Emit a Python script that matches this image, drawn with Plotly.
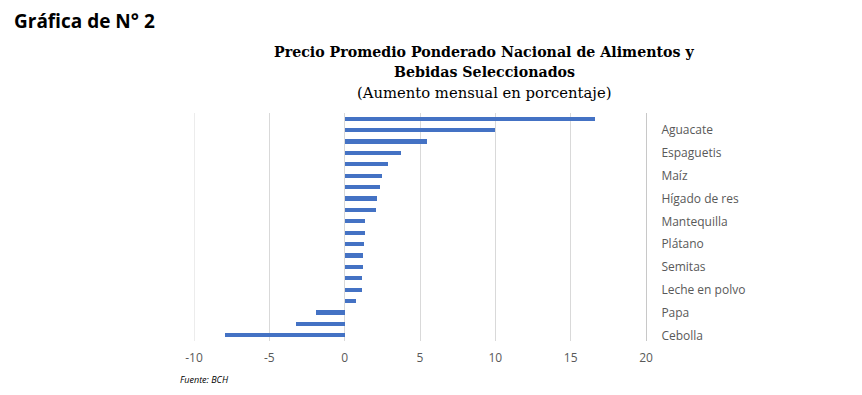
import plotly.graph_objects as go

# Values top-to-bottom (percent monthly increase)
values = [16.6, 10.0, 5.47, 3.71, 2.89, 2.47, 2.32, 2.12, 2.05, 1.37,
          1.32, 1.28, 1.24, 1.19, 1.13, 1.13, 0.75, -1.92, -3.25, -7.97]
# Visible category labels (every second bar, starting with the 2nd from top)
tick_labels = ["Aguacate", "Espaguetis", "Maíz", "Hígado de res", "Mantequilla",
               "Plátano", "Semitas", "Leche en polvo", "Papa", "Cebolla"]
x_ticks = [-10, -5, 0, 5, 10, 15, 20]

positions = list(range(len(values)))
label_positions = positions[1::2]

fig = go.Figure()
fig.add_trace(go.Bar(
    x=values, y=positions, orientation="h",
    marker=dict(color="#4472C4", line=dict(width=0)),
    width=0.36,
    showlegend=False,
))

W, H = 862, 395
L, R, T, B = 194, 646, 113, 341

# gridline at the left edge of the range
fig.add_shape(type="line", xref="x", yref="paper", x0=x_ticks[0], x1=x_ticks[0],
              y0=0, y1=1, line=dict(color="#d9d9d9", width=1), layer="below")

fig.update_layout(
    width=W, height=H,
    margin=dict(l=L, r=W - R, t=T, b=H - B, autoexpand=False),
    paper_bgcolor="white", plot_bgcolor="white",
    bargap=0,
    xaxis=dict(
        range=[-10, 20], tickvals=x_ticks, ticktext=[str(v) for v in x_ticks],
        showgrid=True, gridcolor="#d9d9d9", gridwidth=1,
        zeroline=True, zerolinecolor="#d9d9d9", zerolinewidth=1,
        showline=False, ticks="",
        tickfont=dict(family="Open Sans", size=12, color="#595959"),
        ticklabelstandoff=8,
    ),
    yaxis=dict(
        range=[len(values) - 0.5, -0.5], side="right",
        tickvals=label_positions, ticktext=tick_labels,
        showgrid=False, zeroline=False,
        showline=True, linecolor="#c8c8c8", linewidth=1,
        ticks="", ticklabelstandoff=12,
        tickfont=dict(family="Open Sans", size=12, color="#595959"),
    ),
    annotations=[
        dict(text="<b>Gráfica de N° 2</b>", x=12, y=H - 21,
             showarrow=False, xanchor="left", yanchor="middle",
             font=dict(family="Open Sans", size=19, color="#000000")),
        dict(text="<b>Precio Promedio Ponderado Nacional de Alimentos y</b>", x=484, y=H - 52,
             showarrow=False, xanchor="center", yanchor="middle",
             font=dict(family="DejaVu Serif", size=14.2, color="#000000")),
        dict(text="<b>Bebidas Seleccionados</b>", x=484, y=H - 72,
             showarrow=False, xanchor="center", yanchor="middle",
             font=dict(family="DejaVu Serif", size=14.2, color="#000000")),
        dict(text="(Aumento mensual en porcentaje)", x=484, y=H - 92,
             showarrow=False, xanchor="center", yanchor="middle",
             font=dict(family="DejaVu Serif", size=14.8, color="#000000")),
        dict(text="<i>Fuente: BCH</i>", x=178, y=H - 379,
             showarrow=False, xanchor="left", yanchor="middle",
             font=dict(family="Open Sans", size=9, color="#000000")),
    ],
)

# Convert annotation pixel coordinates to paper coordinates
for a in fig.layout.annotations:
    a.xref = "paper"; a.yref = "paper"
    a.x = (a.x - L) / (R - L)
    a.y = (a.y - (H - B)) / (B - T)

fig.write_html("out.html")
